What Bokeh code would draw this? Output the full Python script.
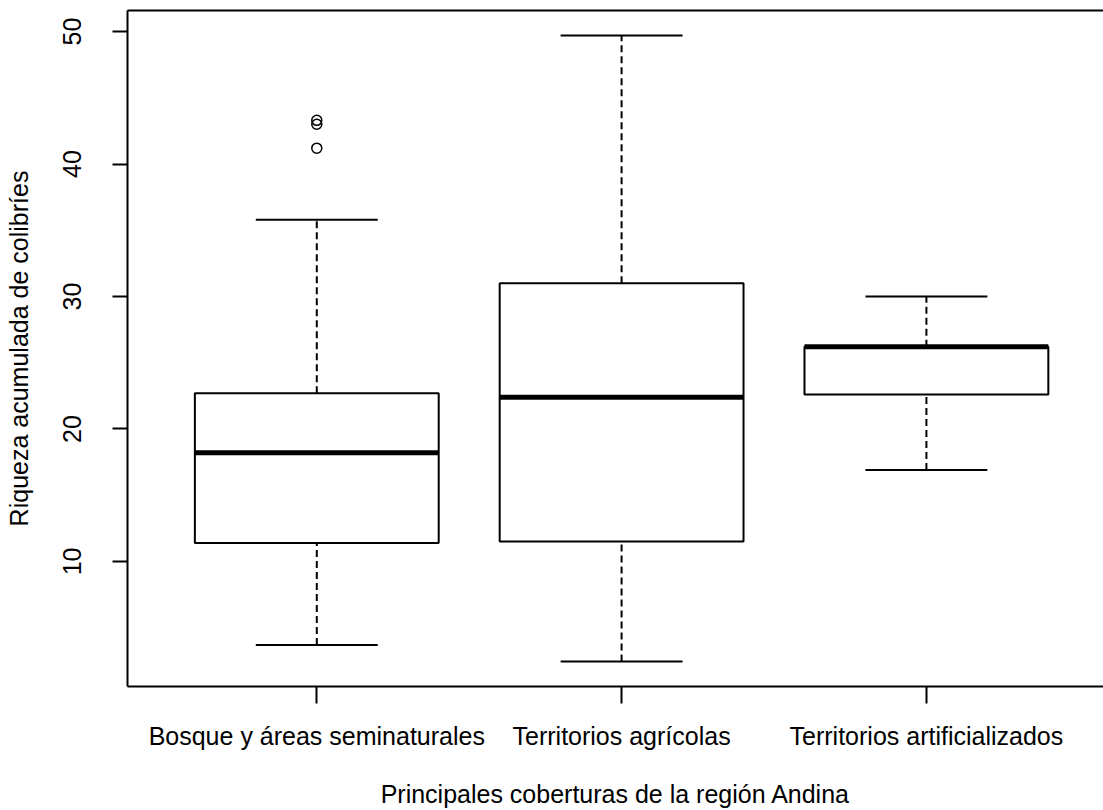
from bokeh.plotting import figure
from bokeh.models import FixedTicker, Range1d, LinearAxis
from bokeh.embed import file_html
from bokeh.resources import INLINE

categories = ["Bosque y áreas seminaturales", "Territorios agrícolas", "Territorios artificializados"]
lower = [3.7, 2.45, 16.9]
q1 = [11.4, 11.5, 22.6]
median = [18.2, 22.4, 26.2]
q3 = [22.7, 31.0, 26.2]
upper = [35.8, 49.7, 30.0]
outlier_group = [1, 1, 1]
outlier_values = [41.2, 43.0, 43.3]
y_ticks = [10, 20, 30, 40, 50]

FONT = "Liberation Sans"
pos = [i + 1 for i in range(len(categories))]
half_box = 0.4
half_cap = 0.2

p = figure(width=1103, height=810, output_backend="svg", toolbar_location=None,
           x_range=Range1d(0.379, 3.581), y_range=Range1d(0.56, 51.59),
           min_border_left=127, min_border_right=0, min_border_top=10, min_border_bottom=124)
p.outline_line_color = None
p.xgrid.visible = False
p.ygrid.visible = False
p.background_fill_color = "white"
p.border_fill_color = "white"

# whiskers (dashed)
p.segment(x0=pos, x1=pos, y0=q3, y1=upper, line_color="black", line_width=2, line_dash="7 4")
p.segment(x0=pos, x1=pos, y0=lower, y1=q1, line_color="black", line_width=2, line_dash="7 4")
# caps
p.segment(x0=[x - half_cap for x in pos], x1=[x + half_cap for x in pos], y0=upper, y1=upper,
          line_color="black", line_width=2)
p.segment(x0=[x - half_cap for x in pos], x1=[x + half_cap for x in pos], y0=lower, y1=lower,
          line_color="black", line_width=2)
# boxes
p.quad(left=[x - half_box for x in pos], right=[x + half_box for x in pos], bottom=q1, top=q3,
       fill_color="white", line_color="black", line_width=2)
# medians
p.segment(x0=[x - half_box for x in pos], x1=[x + half_box for x in pos], y0=median, y1=median,
          line_color="black", line_width=5)
# outliers
p.scatter(x=outlier_group, y=outlier_values, marker="circle", size=10, fill_color=None,
          line_color="black", line_width=1.5)

# axes
xa = p.xaxis[0]
xa.ticker = FixedTicker(ticks=pos)
xa.major_label_overrides = {x: c for x, c in zip(pos, categories)}
xa.minor_tick_line_color = None
xa.major_tick_in = 0
xa.major_tick_out = 17
xa.major_tick_line_width = 2
xa.major_tick_line_color = "black"
xa.axis_line_width = 2
xa.axis_line_color = "black"
xa.major_label_text_font = FONT
xa.major_label_text_font_size = "25px"
xa.major_label_text_color = "black"
xa.major_label_standoff = 18
xa.axis_label = "Principales coberturas de la región Andina"
xa.axis_label_text_font = FONT
xa.axis_label_text_font_size = "25px"
xa.axis_label_text_font_style = "normal"
xa.axis_label_text_color = "black"
xa.axis_label_standoff = 27

ya = p.yaxis[0]
ya.ticker = FixedTicker(ticks=y_ticks)
ya.minor_tick_line_color = None
ya.major_tick_in = 0
ya.major_tick_out = 15
ya.major_tick_line_width = 2
ya.major_tick_line_color = "black"
ya.axis_line_width = 2
ya.axis_line_color = "black"
ya.major_label_orientation = "vertical"
ya.major_label_text_font = FONT
ya.major_label_text_font_size = "25px"
ya.major_label_text_color = "black"
ya.major_label_standoff = 31
ya.axis_label = "Riqueza acumulada de colibríes"
ya.axis_label_text_font = FONT
ya.axis_label_text_font_size = "25px"
ya.axis_label_text_font_style = "normal"
ya.axis_label_text_color = "black"
ya.axis_label_standoff = 28

top = LinearAxis(ticker=FixedTicker(ticks=[]), major_label_text_font_size="0px",
                 major_tick_line_color=None, minor_tick_line_color=None,
                 axis_line_width=2, axis_line_color="black")
p.add_layout(top, "above")

open("out.html", "w").write(file_html(p, INLINE))
